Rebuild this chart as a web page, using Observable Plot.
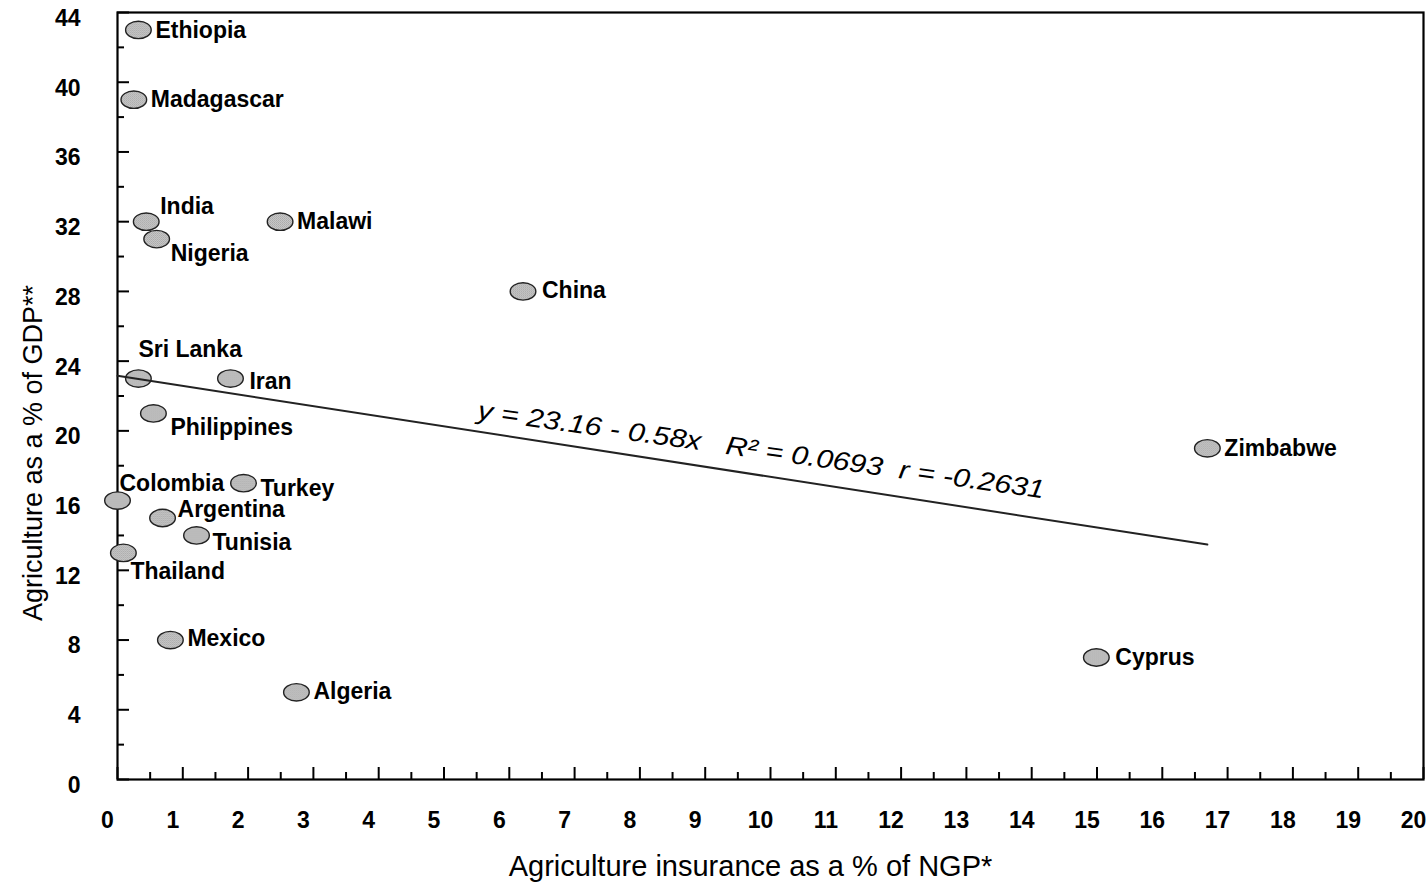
<!DOCTYPE html>
<html>
<head>
<meta charset="utf-8">
<script src="https://cdn.jsdelivr.net/npm/d3@7"></script>
<script src="https://cdn.jsdelivr.net/npm/@observablehq/plot@0.6"></script>
<style>
  html, body { margin: 0; padding: 0; background: #fff; }
  #chart svg { display: block; }
</style>
</head>
<body>
<div id="chart"></div>
<script>
// ---- Data ----
const countries = ["Ethiopia","Madagascar","India","Nigeria","Malawi","China","Sri Lanka","Iran","Philippines","Colombia","Turkey","Argentina","Tunisia","Thailand","Mexico","Algeria","Cyprus","Zimbabwe"];
const insurancePct = [0.32, 0.25, 0.44, 0.60, 2.49, 6.21, 0.32, 1.73, 0.55, 0.0, 1.93, 0.69, 1.21, 0.09, 0.81, 2.74, 14.99, 16.69];
const agricultureGdpPct = [43, 39, 32, 31, 32, 28, 23, 23, 21, 16, 17, 15, 14, 13, 8, 5, 7, 19];

const xTickValues = [0,1,2,3,4,5,6,7,8,9,10,11,12,13,14,15,16,17,18,19,20];
const xMinorTickValues = [0.5,1.5,2.5,3.5,4.5,5.5,6.5,7.5,8.5,9.5,10.5,11.5,12.5,13.5,14.5,15.5,16.5,17.5,18.5,19.5];
const yTickValues = [0,4,8,12,16,20,24,28,32,36,40,44];
const yMinorTickValues = [2,6,10,14,18,22,26,30,34,38,42];

const regIntercept = 23.16;
const regSlope = -0.58;
const regressionText = "y = 23.16 - 0.58x\u00a0\u00a0\u00a0R\u00b2 = 0.0693\u00a0\u00a0r = -0.2631";
const regressionLabelX = 5.52;

const xTitle = "Agriculture insurance as a % of NGP*";
const yTitle = "Agriculture as a % of GDP**";

// label placement: pixel offsets [dx, dy] of each label from its point
const labelPlacement = {
  "Ethiopia":[17,1], "Madagascar":[17,0], "India":[14,-15],
  "Nigeria":[14,15], "Malawi":[17,0], "China":[19,-1],
  "Sri Lanka":[0,-29], "Iran":[19,3], "Philippines":[17,14],
  "Colombia":[2,-17], "Turkey":[17,5], "Argentina":[15,-8],
  "Tunisia":[16,7], "Thailand":[7,19], "Mexico":[17,-1],
  "Algeria":[17,-1], "Cyprus":[19,0], "Zimbabwe":[17,0]
};

const data = countries.map((c, i) => ({country: c, x: insurancePct[i], y: agricultureGdpPct[i]}));
const xMax = d3.max(insurancePct);
const regLine = [0, xMax].map(x => ({x, y: regIntercept + regSlope * x}));

// ---- Layout ----
const W = 1427, H = 889;
const mL = 117, mR = 4, mT = 12, mB = 110;
const plotW = W - mL - mR, plotH = H - mT - mB;

const ellipse = {
  draw(ctx, size) {
    const r = Math.sqrt(size / Math.PI);
    const rx = r * 1.22, ry = r * 0.83, k = 0.5523;
    ctx.moveTo(rx, 0);
    ctx.bezierCurveTo(rx, ry * k, rx * k, ry, 0, ry);
    ctx.bezierCurveTo(-rx * k, ry, -rx, ry * k, -rx, 0);
    ctx.bezierCurveTo(-rx, -ry * k, -rx * k, -ry, 0, -ry);
    ctx.bezierCurveTo(rx * k, -ry, rx, -ry * k, rx, 0);
    ctx.closePath();
  }
};

const font = "'Liberation Sans', Arial, Helvetica, sans-serif";

const labelMarks = data.map(d => Plot.text([d], {
  x: "x", y: "y", text: "country",
  dx: labelPlacement[d.country][0], dy: labelPlacement[d.country][1],
  fontSize: 23, fontWeight: "bold", fill: "#000", textAnchor: "start", lineAnchor: "middle"
}));

const chart = Plot.plot({
  width: W, height: H,
  marginLeft: mL, marginRight: mR, marginTop: mT, marginBottom: mB,
  style: {fontFamily: font, background: "#fff", color: "#000", overflow: "visible"},
  x: {domain: [0, 20], ticks: xTickValues},
  y: {domain: [0, 44], ticks: yTickValues},
  marks: [
    Plot.axisX(xTickValues, {tickSize: 0, tickPadding: 32, dx: -10, fontSize: 23, fontWeight: "bold", label: null, fill: "#000"}),
    Plot.axisY(yTickValues, {tickSize: 0, tickPadding: 37, dy: 6, fontSize: 23, fontWeight: "bold", label: null, fill: "#000"}),
    // inward ticks
    Plot.tickX(xTickValues, {x: d => d, insetTop: plotH - 12, stroke: "#000", strokeWidth: 2}),
    Plot.tickX(xMinorTickValues, {x: d => d, insetTop: plotH - 7, stroke: "#000", strokeWidth: 2}),
    Plot.tickY(yTickValues, {y: d => d, insetRight: plotW - 12, stroke: "#000", strokeWidth: 2}),
    Plot.tickY(yMinorTickValues, {y: d => d, insetRight: plotW - 7, stroke: "#000", strokeWidth: 2}),
    Plot.frame({stroke: "#000", strokeWidth: 2.2}),
    // points
    Plot.dot(data, {x: "x", y: "y", r: 10.5, symbol: ellipse, fill: "url(#stipple)", stroke: "#222", strokeWidth: 1.4}),
    ...labelMarks,
    // regression line
    Plot.line(regLine, {x: "x", y: "y", stroke: "#222", strokeWidth: 2}),
    Plot.text([{x: regressionLabelX, y: regIntercept + regSlope * regressionLabelX}], {
      x: "x", y: "y", text: () => regressionText, textAnchor: "start", lineAnchor: "middle",
      rotate: 8, dy: -21, fontSize: 26, fontStyle: "italic", fill: "#000"
    }),
    // axis titles
    Plot.text([xTitle], {text: d => d, frameAnchor: "bottom", textAnchor: "middle", dx: -20, dy: 87, fontSize: 29, fill: "#000", lineAnchor: "middle"}),
    Plot.text([yTitle], {text: d => d, frameAnchor: "left", textAnchor: "middle", dx: -84, dy: 57, rotate: -90, fontSize: 27, fill: "#000", lineAnchor: "middle"})
  ]
});

// stipple fill for the markers
const ns = "http://www.w3.org/2000/svg";
const defs = document.createElementNS(ns, "defs");
defs.innerHTML = '<pattern id="stipple" width="2" height="2" patternUnits="userSpaceOnUse">' +
  '<rect width="2" height="2" fill="#e2e2e2"/>' +
  '<rect x="0" y="0" width="1" height="1" fill="#8c8c8c"/>' +
  '<rect x="1" y="1" width="1" height="1" fill="#9a9a9a"/></pattern>';
chart.prepend(defs);

// stretch the regression annotation to the reference's width
chart.querySelectorAll("text").forEach(t => {
  if (t.textContent === regressionText) {
    t.setAttribute("textLength", 572);
    t.setAttribute("lengthAdjust", "spacingAndGlyphs");
  }
});
document.getElementById("chart").appendChild(chart);
</script>
</body>
</html>
